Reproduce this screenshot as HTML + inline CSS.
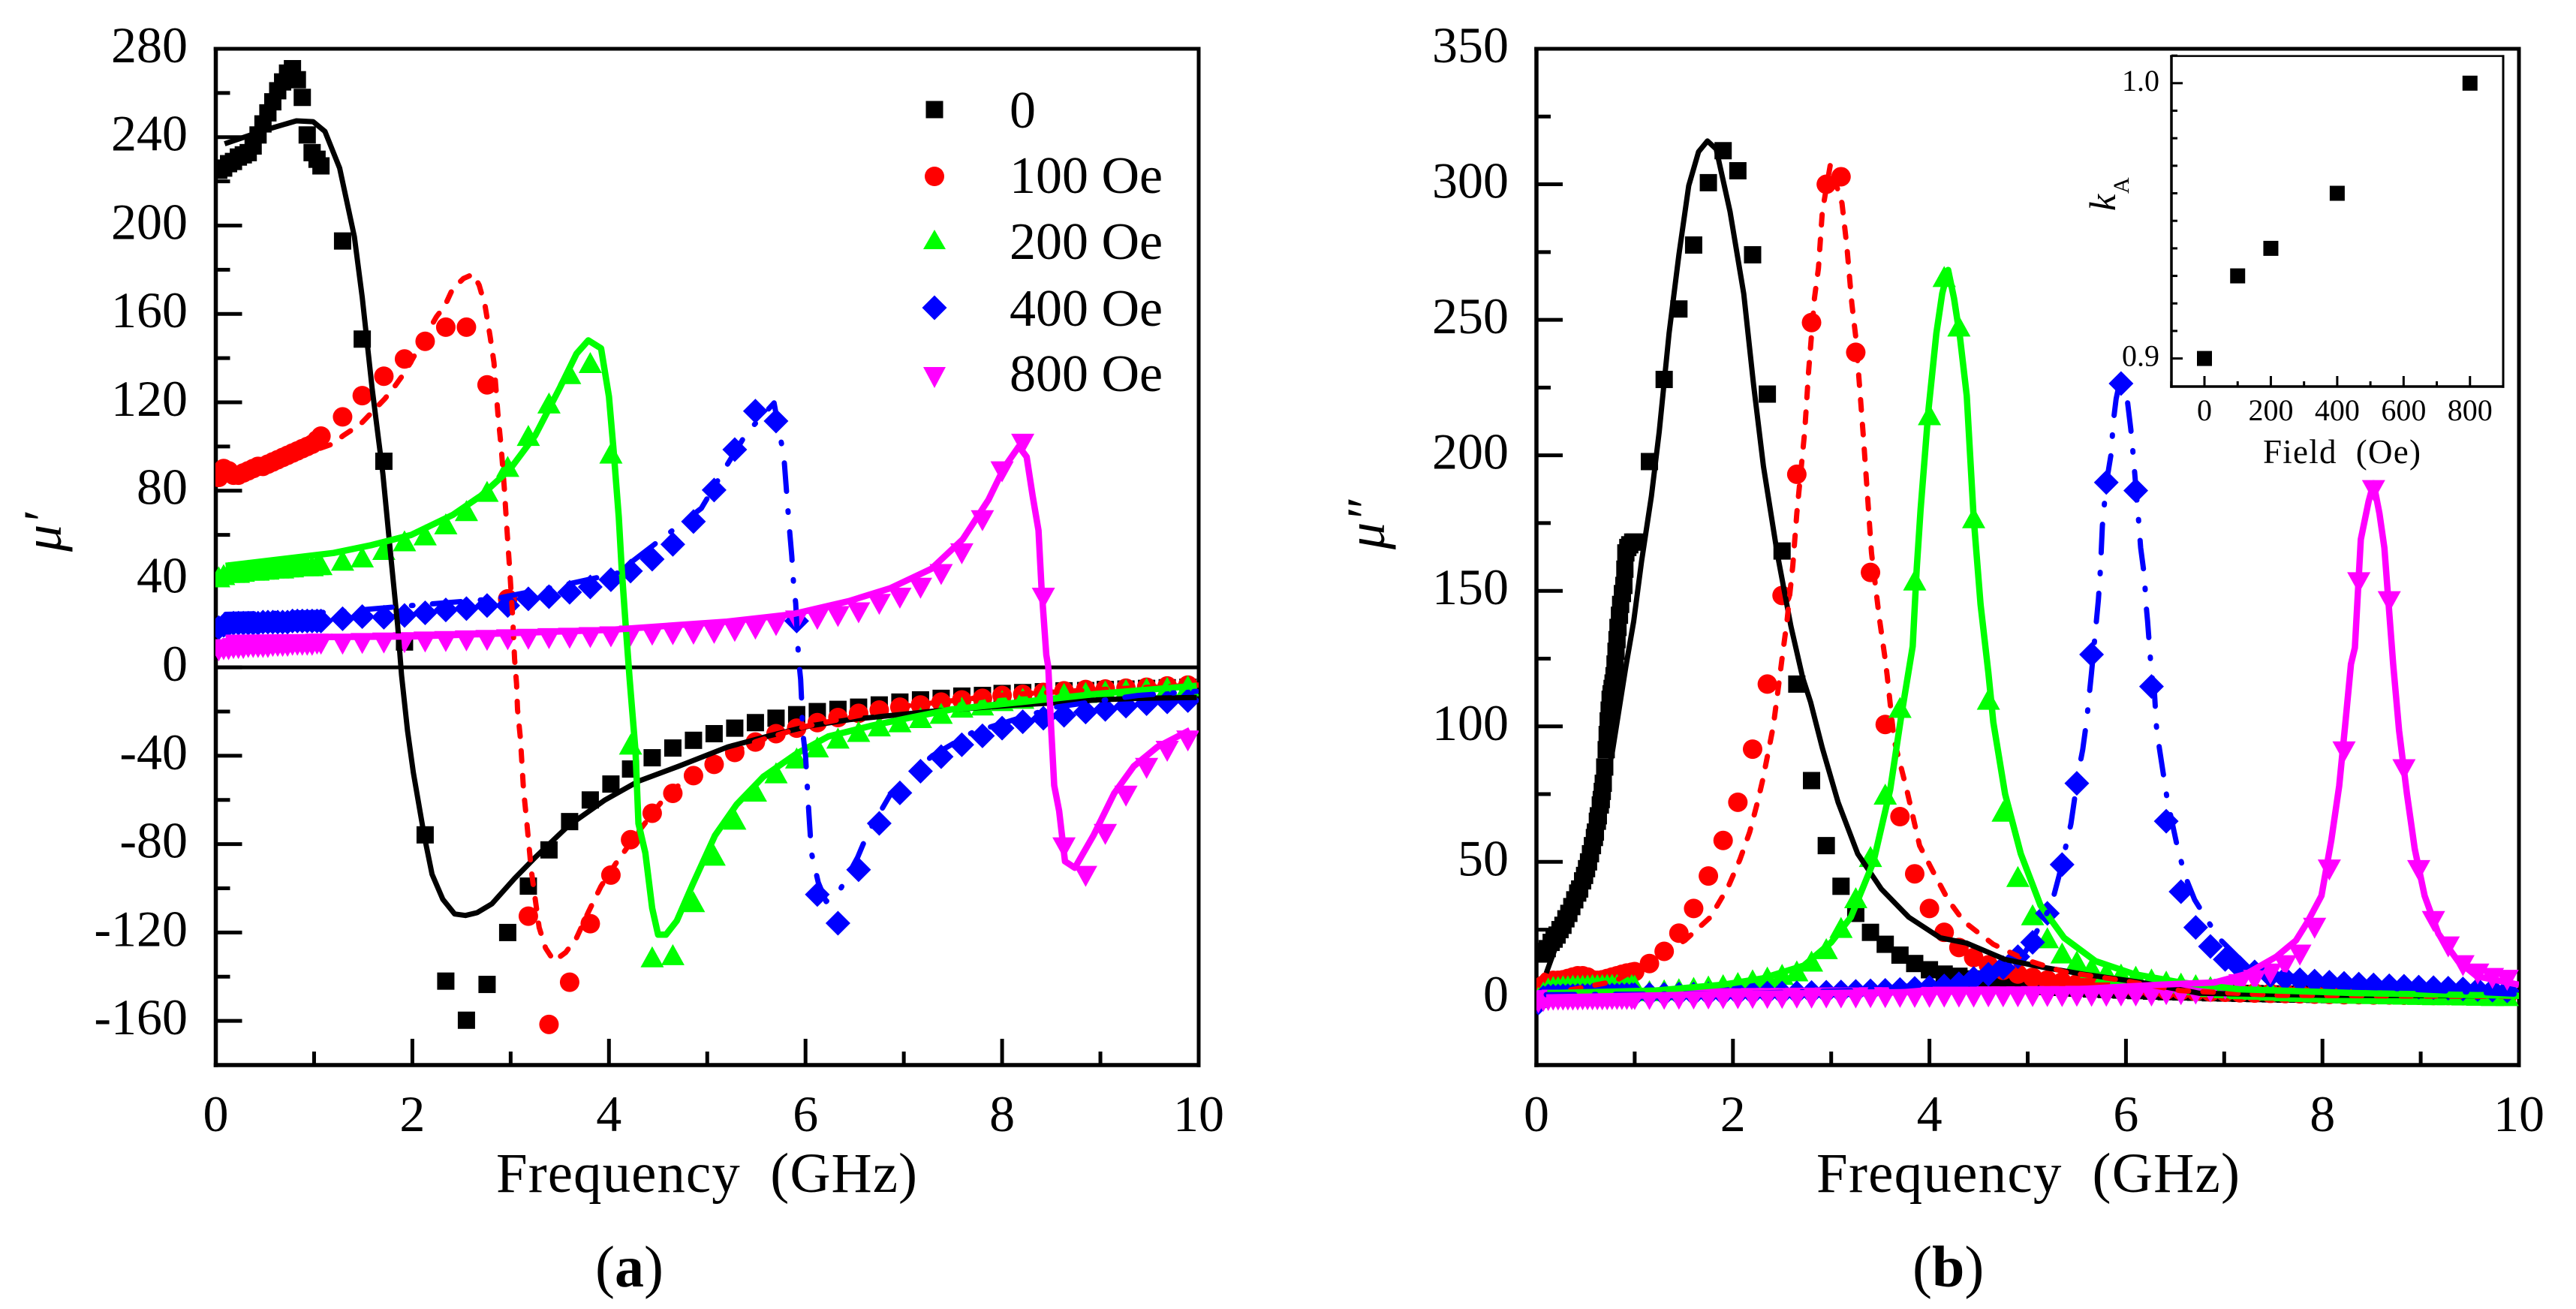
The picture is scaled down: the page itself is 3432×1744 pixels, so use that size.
<!DOCTYPE html>
<html lang="en">
<head>
<meta charset="utf-8">
<title>Complex permeability spectra</title>
<style>
html,body{margin:0;padding:0;background:#fff;}
svg{display:block;}
text{font-family:"Liberation Serif","DejaVu Serif",serif;fill:#000;}
</style>
</head>
<body>
<svg id="figure" xmlns="http://www.w3.org/2000/svg" width="3432" height="1744" viewBox="0 0 3432 1744">
<rect x="0" y="0" width="3432" height="1744" fill="#fff"/>
<defs>
<clipPath id="clipA"><rect x="287" y="65" width="1310" height="1354"/></clipPath>
<clipPath id="clipB"><rect x="2047" y="65" width="1309" height="1354"/></clipPath>
</defs>
<g id="layerA"></g>
<g id="layerB"></g>
<g id="layerInset"></g>

<text transform="translate(81,735) rotate(-90)" font-size="72" font-style="italic">μ′</text>
<text transform="translate(1844,732) rotate(-90)" font-size="72" font-style="italic">μ″</text>
<text x="661" y="1588" font-size="75" textLength="561" lengthAdjust="spacing">Frequency&#160;&#160;(GHz)</text>
<text x="2420" y="1588" font-size="75" textLength="564" lengthAdjust="spacing">Frequency&#160;&#160;(GHz)</text>
<text x="793" y="1714" font-size="78">(<tspan font-weight="bold">a</tspan>)</text>
<text x="2548" y="1714" font-size="78">(<tspan font-weight="bold">b</tspan>)</text>
<text x="3015" y="617" font-size="45" textLength="210" lengthAdjust="spacing">Field&#160;&#160;(Oe)</text>
<text transform="translate(2818,281) rotate(-90)" font-size="50" font-style="italic">k</text>
<text transform="translate(2836,258) rotate(-90)" font-size="30">A</text>

<g>
<rect x="1233.5" y="134.5" width="23" height="23" fill="#000"/>
<circle cx="1245" cy="235" r="13" fill="#f00"/>
<polygon points="1230,332 1260,332 1245,306" fill="#0f0"/>
<polygon points="1245,393.5 1261.5,410 1245,426.5 1228.5,410" fill="#00f"/>
<polygon points="1230,489 1260,489 1245,517" fill="#f0f"/>
<text x="1345" y="170" font-size="70">0</text>
<text x="1345" y="257" font-size="70">100 Oe</text>
<text x="1345" y="345" font-size="70">200 Oe</text>
<text x="1345" y="434" font-size="70">400 Oe</text>
<text x="1345" y="521" font-size="70">800 Oe</text>
</g>
</svg>
<script>
// ---------- Panel (a) data ----------
const aFreq=[.03,.08,.13,.18,.23,.28,.33,.38,.43,.48,.53,.58,.63,.68,.73,.78,.83,.88,.93,.98,1.03,1.07,
1.29,1.49,1.71,1.92,2.13,2.34,2.55,2.76,2.97,3.18,3.39,3.6,3.81,4.02,4.22,4.44,4.65,4.86,5.07,5.28,5.49,5.70,5.91,6.12,6.33,6.54,6.75,6.96,7.17,7.38,7.59,7.80,8.0,8.21,8.42,8.63,8.85,9.05,9.26,9.47,9.68,9.89];
const a0=[225,226,228,229,231,232,233,236,241,246,251,256,261,265,269,271,266,258,241,233,230,227,
193,148.6,93.3,11.5,-75.8,-142,-159.7,-143.5,-120,-99,-82.6,-69.8,-60,-52.8,-46,-40.9,-36.5,-33,-30,-27.5,-25,-23,-21.4,-20,-19,-18,-17,-15.7,-14.7,-14,-13,-12.7,-11.8,-11.4,-11,-10.6,-10.5,-10,-9.8,-9.5,-9.2,-9];
const a100=[86,90,89,87,87,88,89,90,91,91,92,93,94,95,96,97,98,99,100,101,103,104.7,
113.4,123,131.8,139.6,147.6,154,154,127.9,31,-112.6,-161.6,-142.5,-116,-94,-78,-66,-57,-49,-43.9,-38.5,-33.8,-30,-27.5,-25,-22.7,-20.8,-19.3,-18,-17,-15.7,-14.7,-14,-12.7,-12.2,-11.3,-10.6,-10,-9.8,-9.4,-9,-8.4,-8];
const a200=[41,42,43,43,43,43.5,44,44,44,44.5,44.5,45,45,45,45.5,45.5,46,46,46,46,46.5,46.5,
48.5,50,53.4,57.3,60,65,71,79.7,91,105,119.7,133,138,97,-34.7,-131,-130,-106,-85,-68.7,-56,-47.7,-41,-36,-32,-29,-26.5,-24.6,-22.7,-20.8,-18,-17,-15,-14,-12.6,-11.8,-11.3,-10.6,-10,-9.4,-9,-8.3];
const a400=[18,19,19.5,20,20,20,20,20,20,20.5,20.5,20.5,20.5,20.5,20.5,21,21,21,21,21,21,21,
22,23,22.7,23.5,24.7,26,26.6,28,28,31,32,34,36.4,39.7,43.6,49,55.7,66,80.3,98.6,116,111.5,21,-102.8,-115.8,-91.6,-70.6,-56.8,-47,-40.4,-35,-31,-27.5,-24.6,-23,-21.7,-20.2,-19,-17.5,-16.4,-15.6,-15];
const a800=[7.5,8,8,8.5,8.5,8.5,9,9,9,9,9,9.5,9.5,9.5,9.5,10,10,10,10,10,10.5,10.5,
10.5,10.8,11,11.2,11.5,11.7,12,12.2,12.5,12.7,13,13.2,13.5,13.8,14.2,14.6,14.8,15,15.4,16.3,17.3,18.9,21,21.7,23,24.7,28.5,31.3,35.8,42,51.4,66.4,88.5,101,31.3,-81.7,-94.6,-75.6,-58.3,-45.7,-38,-33.3];

const aFit0F=[.09,.53,.82,.99,1.11,1.26,1.41,1.49,1.59,1.70,1.785,1.85,1.89,1.95,2.01,2.12,2.2,2.31,2.43,2.54,2.66,2.81,3.04,3.25,3.59,3.96,4.3,4.71,5.21,5.63,6.04,6.46,6.88,7.3,7.72,8.14,8.56,8.98,9.39,9.98];
const aFit0V=[237,243.6,247.4,247,242.6,226,195,167.5,126.5,87.6,48.5,19,-3.6,-28.5,-47.6,-76,-93.6,-105,-111.6,-112.3,-111,-107,-95.5,-86,-71.6,-60,-51.5,-44.7,-36,-31,-26.5,-23.6,-21.7,-19.8,-18.4,-17,-16,-14.7,-14,-13.6];
const aFit100F=[.1,.6,1.18,1.30,1.47,1.595,1.72,1.825,1.93,2.245,2.33,2.41,2.52,2.62,2.68,2.74,2.79,2.83,2.87,2.905,2.935,2.96,2.99,3.02,3.04,3.06,3.07,3.1,3.13,3.165,3.21,3.25,3.29,3.355,3.44,3.56,3.67,3.79,3.92,4.07,4.3,4.6,5.0,5.5,6,7,8,9,10];
const aFit100V=[86,92,101,105,110,115.8,121.6,127.5,134,158.7,163.6,171.4,176,178,173,163.6,150,138,115,99,81.6,64,44.6,23,3.7,-7.4,-19,-32.4,-55,-70.6,-91.7,-105,-117.7,-127,-132.9,-129,-122.4,-110.8,-99,-88.7,-74.4,-57,-44,-33.5,-26.7,-17.6,-12.5,-10,-8];
const aFit200F=[.1,1.2,1.58,1.99,2.41,2.70,2.99,3.25,3.5,3.67,3.79,3.92,4.0,4.05,4.1,4.13,4.17,4.21,4.27,4.3,4.37,4.44,4.5,4.58,4.69,4.85,5.08,5.3,5.57,5.91,6.23,6.66,7.07,7.49,8.13,8.96,9.98];
const aFit200V=[46,51.8,55.3,60,69,77.8,89.5,105,126.5,142,148,144.4,122.6,97,68,44.6,19,-5,-38,-70.6,-84,-109,-121,-121,-114.7,-98.4,-76,-62,-49.5,-39,-31.3,-26.5,-22.7,-19,-16,-12,-8.3];
const aFit400F=[.1,1.2,1.99,2.83,3.45,4.08,4.94,5.2,5.4,5.68,5.74,5.78,5.82,5.84,5.86,5.88,5.9,5.93,5.95,5.96,5.97,6.0,6.03,6.06,6.13,6.21,6.36,6.53,6.63,6.87,7.29,7.7,8.54,9.38,9.98];
const aFit400V=[24,25,28,31,36.4,42.6,72,91.5,106,119.7,105,95.3,72,61,50.4,36.8,29,3.6,-5.4,-15,-28.6,-40,-63,-84,-97.4,-106,-100,-86,-75.4,-57,-40,-29.4,-18,-12.7,-10.8];
const aFit800F=[.1,1.99,4.02,5.2,5.86,6.44,6.86,7.28,7.6,7.86,8.02,8.17,8.25,8.31,8.37,8.4,8.45,8.47,8.5,8.53,8.58,8.64,8.74,8.93,9.14,9.34,9.58,9.91];
const aFit800V=[13.4,14,17,20.7,24,30,35.8,44.6,58,75.8,90.4,100,95.3,77.8,62,36.8,5.6,.3,-28.4,-53.4,-65,-87.8,-90.7,-76,-57,-44.7,-36,-28.4];

const aXMajor=[0,2,4,6,8,10];
const aXMinor=[1,3,5,7,9];
const aYMajor=[280,240,200,160,120,80,40,0,-40,-80,-120,-160];
const aYMinor=[260,220,180,140,100,60,20,-20,-60,-100,-140];
const aXLabels=['0','2','4','6','8','10'];
const aYLabels=['280','240','200','160','120','80','40','0','-40','-80','-120','-160'];

// ---------- Panel (b) data ----------
const bFreq0Dense=[.02,.05,.07,.11,.15,.18,.21,.24,.27,.30,.33,.36,.39,.42,.44,.47,.49,.51,.53,.55,.57,.59,.60,.62,.63,.65,.66,.67,.68,.695,.71,.72,.73,.74,.75,.76,.77,.78,.79,.80,.81,.82,.83,.845,.857,.875,.89,.90,.91,.93,.95,.98];
const b0Dense=[17,16,16.4,18,20.3,21.5,23,25,26.6,29,31,33.5,36,38.5,40,43,45,47.5,50,53,56,59,61,65,67,71,73,76,79,85,91.4,97,102,106,110,112,114,116,118.7,123,127.7,132,136.5,141,145,149,152,158,164,166,167,168];
const bFreqDense=[.02,.07,.12,.17,.22,.27,.32,.37,.42,.47,.52,.57,.62,.67,.72,.77,.82,.87,.92,.97];
const bFreq=[1.00,1.15,1.30,1.45,1.60,1.75,1.90,2.05,2.20,2.35,2.50,2.65,2.80,2.95,3.10,3.25,3.40,3.55,3.70,3.85,4.00,4.15,4.30,4.45,4.60,4.75,4.90,5.05,5.20,5.35,5.50,5.65,5.80,5.95,6.10,6.26,6.41,6.56,6.71,6.86,7.01,7.16,7.31,7.47,7.62,7.77,7.92,8.07,8.22,8.37,8.52,8.68,8.83,8.98,9.13,9.28,9.43,9.58,9.73,9.88];
const b0=[168,197.7,228,254,277.6,300.6,312.4,305,274,222.6,164.7,115.6,80,56,41,31,24,19.6,15.6,12.5,10.2,8.6,7.8,6.8,6,5.4,5,4.4,4,3.7,3.4,3.1,2.9,2.7,2.5,2.3,2.1,2,1.9,1.7,1.6,1.5,1.4,1.3,1.2,1.2,1.1,1,1,.9,.9,.8,.8,.7,.7,.6,.6,.5,.5,.5];
const b100Dense=[2,4.5,6,6.3,6.3,6.5,7,7.5,8,8,7.5,6.5,6.3,6.5,7,7.5,8,8.5,9,9.3];
const b100=[9.5,12.5,17,23.7,32.8,44.8,57.9,72,91.6,115.6,148.3,193,249,300,302.8,238,156.8,100.7,66.7,45.6,32.8,24,18.4,14.7,12,10,8.6,7.4,6.4,5.7,5,4.5,4,3.6,3.3,3,2.7,2.5,2.2,2,1.9,1.7,1.6,1.5,1.4,1.3,1.2,1.1,1,1,.9,.9,.8,.8,.7,.7,.6,.6,.6,.5];
const b200Dense=[0,2,3.5,4,4,4.3,4.3,4.5,4.5,4.5,4.6,4.7,4.7,4.7,4.8,4.8,4.8,4.8,4.8,4.7];
const b200=[4.5,2.5,2.8,3.2,3.7,4.2,4.7,5.5,6.5,7.5,8.5,9.8,13.4,18,25.8,36.8,52,75,107,154,215,266,247.7,177,110,68.7,44.6,30.5,22,16.4,13.4,11,9.4,8.6,7.8,6.8,6,5.3,4.7,4,3.6,3.2,3,2.7,2.4,2.2,2,1.8,1.7,1.5,1.4,1.3,1.2,1.1,1,1,.9,.8,.7,.7];
const b400Dense=[-2,0,.5,.5,.5,.6,.6,.6,.7,.7,.7,.8,.8,.8,.9,.9,.9,1,1,1];
const b400=[1,1.1,1.1,1.2,1.2,1.3,1.3,1.4,1.5,1.6,1.6,1.7,1.8,1.9,2,2.2,2.4,2.6,2.9,3.3,3.7,4.2,5,7,8.5,11,15,20.3,31,49,79,126.5,190,226.5,187,114.7,65,39,25.8,18.8,14,11,9.4,8,7,6.5,6,5.6,5.2,4.9,4.6,4.3,4.1,3.8,3.6,3.4,3.1,2.9,2.7,2.4];
const b800Dense=[-2,-1.5,-1.2,-1,-1,-1,-1,-1,-1,-.9,-.9,-.9,-.9,-.9,-.9,-.8,-.8,-.8,-.8,-.8];
const b800=[-.8,-.8,-.7,-.7,-.6,-.6,-.5,-.5,-.4,-.4,-.4,-.3,-.3,-.2,-.2,-.2,-.1,-.1,0,0,0,.1,.1,.1,.2,.2,.2,.3,.3,.3,.4,.4,.4,.5,.5,.5,1,1,1.2,2,3,4.7,6.3,8.6,11.7,15.6,25.5,47,90.6,153,187,146,84,46.8,28,18.6,11.7,8.6,7,6.3];

const bFit0F=[.1,.43,.59,.77,.91,.99,1.07,1.17,1.25,1.35,1.45,1.55,1.65,1.74,1.83,1.97,2.11,2.21,2.31,2.45,2.59,2.71,2.79,2.91,3.07,3.27,3.51,3.79,4.11,4.38,4.77,5.17,5.56,6.16,6.75,8,10];
const bFit0V=[9,42,61,90,122,138.8,161,185,208.8,245,274,299.5,312,316,313,290,259.6,226,196,164,137,118,109,92,72,53,40,29.6,22,20,14,11,8.6,5.5,1.5,.8,.5];
const bFit100F=[.1,.8,1.51,1.77,1.95,2.07,2.17,2.25,2.3,2.36,2.41,2.45,2.51,2.55,2.61,2.65,2.73,2.77,2.83,2.87,2.91,2.99,3.11,3.16,3.21,3.25,3.29,3.33,3.37,3.41,3.49,3.55,3.57,3.64,3.77,3.9,4.03,4.19,4.35,4.65,4.97,5.37,5.96,6.55,7.54,10];
const bFit100V=[1,6,21,29.6,40.7,50.8,61,72,79.8,90.6,100,110.9,128,138.8,159.5,178.6,208.8,231,258,269,290,307,293,277,256,243.7,224.7,205.6,185,164,140,124.6,118.7,95,76.5,56,46.9,36,28,19.6,14,9.4,6.3,2.5,.8,.3];
const bFit200F=[.11,1.2,1.9,2.3,2.72,3.0,3.2,3.43,3.6,3.71,3.83,3.87,3.91,3.99,4.07,4.13,4.19,4.25,4.31,4.38,4.45,4.52,4.6,4.65,4.77,4.93,5.13,5.37,5.69,6.08,6.56,7.15,8.34,10];
const bFit200V=[1.6,2.5,4.7,7,11.7,20.3,29.6,50,76.5,103,129.6,158,180,216.8,245,259.7,268.4,258,243.7,222,177,145,119.8,101.5,75,53,34,22,13.4,8.6,5.5,3,1.6,.6];
const bFit400F=[.1,2,3.2,4.5,4.97,5.24,5.32,5.44,5.52,5.56,5.6,5.65,5.72,5.74,5.76,5.8,5.85,5.87,5.9,5.95,6.01,6.05,6.07,6.09,6.13,6.15,6.19,6.2,6.22,6.26,6.29,6.31,6.34,6.42,6.52,6.6,6.7,6.94,7.18,7.57,8.36,9.95];
const bFit400V=[1,1.4,2.5,6.3,16.4,34,45,64,84,91.4,102,120,146.8,158,174,189.7,200.8,212,220.8,229.5,221.6,209.6,201.6,193,175.4,165.9,154.8,146.8,138.9,119.8,112.4,100,92,73,56,45,36,22,13.4,8.6,3.9,1.2];
const bFit800F=[.1,2,4,5.5,6.35,6.9,7.22,7.53,7.73,7.85,7.99,8.09,8.17,8.23,8.29,8.33,8.39,8.47,8.52,8.58,8.63,8.68,8.72,8.78,8.86,8.94,9.04,9.18,9.38,9.57,10];
const bFit800V=[0,1.3,2,3,4.7,5.5,8.6,15,21,28,37.5,58,78,100,123,129,169,183,189.7,178.6,165.9,142,123,98.4,75,54.7,37.5,23.5,13.4,7.8,4.7];

const bXMajor=[0,2,4,6,8,10];
const bXMinor=[1,3,5,7,9];
const bYMajor=[350,300,250,200,150,100,50,0];
const bYMinor=[325,275,225,175,125,75,25];
const bXLabels=['0','2','4','6','8','10'];
const bYLabels=['350','300','250','200','150','100','50','0'];

// ---------- Inset data ----------
const insetField=[0,100,200,400,800];
const insetK=[.9,.93,.94,.96,1];
const insetXMajor=[0,200,400,600,800];
const insetXMinor=[-100,100,300,500,700,900];
const insetYMajor=[1,.9];
const insetYMinor=[1.01,.99,.98,.97,.96,.95,.94,.93,.92,.91];
const insetXLabels=['0','200','400','600','800'];
const insetYLabels=['1.0','0.9'];

// ---------- Drawing helpers ----------
const NS='http://www.w3.org/2000/svg';
function mk(tag,parent,attrs){
  const el=document.createElementNS(NS,tag);
  for(const k in attrs){el.setAttribute(k,attrs[k]);}
  parent.appendChild(el);
  return el;
}
function marker(parent,shape,cx,cy,s,color,name){
  let el;
  if(shape==='square'){
    el=mk('rect',parent,{x:cx-s/2,y:cy-s/2,width:s,height:s,fill:color});
  }else if(shape==='circle'){
    el=mk('circle',parent,{cx:cx,cy:cy,r:s/2,fill:color});
  }else if(shape==='up'){
    el=mk('polygon',parent,{points:(cx-15.5)+','+(cy+14)+' '+(cx+15.5)+','+(cy+14)+' '+cx+','+(cy-14),fill:color});
  }else if(shape==='down'){
    el=mk('polygon',parent,{points:(cx-15.5)+','+(cy-14)+' '+(cx+15.5)+','+(cy-14)+' '+cx+','+(cy+14),fill:color});
  }else{
    el=mk('polygon',parent,{points:cx+','+(cy-16.5)+' '+(cx+16.5)+','+cy+' '+cx+','+(cy+16.5)+' '+(cx-16.5)+','+cy,fill:color});
  }
  
  
}
function fitLine(parent,xs,ys,X,Y,color,width,dash,name){
  const d=xs.map((f,i)=>(i?'L':'M')+X(f).toFixed(1)+' '+Y(ys[i]).toFixed(1)).join(' ');
  const attrs={d:d,fill:'none',stroke:color,'stroke-width':width,'stroke-linejoin':'round'};
  if(dash){attrs['stroke-dasharray']=dash;attrs['stroke-linecap']='round';}
  const el=mk('path',parent,attrs);
  
  
}
function tick(parent,x1,y1,x2,y2,w,name){
  const el=mk('line',parent,{x1:x1,y1:y1,x2:x2,y2:y2,stroke:'#000','stroke-width':w});
  
  
}
function label(parent,x,y,txt,size,anchor,name){
  const el=mk('text',parent,{x:x,y:y,'font-size':size,'text-anchor':anchor});
  el.textContent=txt;
  
  
}
function frame(parent,L,T,R,B,wL,wT,wR,wB,name){
  tick(parent,L,T-wT/2,L,B+wB/2,wL,name+'-left-axis');
  tick(parent,L-wL/2,T,R+wR/2,T,wT,name+'-top-axis');
  tick(parent,R,T-wT/2,R,B+wB/2,wR,name+'-right-axis');
  tick(parent,L-wL/2,B,R+wR/2,B,wB,name+'-bottom-axis');
}

// ---------- Panel (a) ----------
const layerA=document.getElementById('layerA');
const xA=f=>287.5+130.95*f;
const yA=v=>65+(280-v)*2.9435;
frame(layerA,xA(0),65,xA(10),1419,5.5,5,5,5.5,'panel-a');
tick(layerA,xA(0),yA(0),xA(10),yA(0),5,'zero-line');
aYMajor.forEach(v=>tick(layerA,xA(0),yA(v),xA(0)+35,yA(v),5,'y-major-tick'));
aYMinor.forEach(v=>tick(layerA,xA(0),yA(v),xA(0)+19,yA(v),5,'y-minor-tick'));
aXMajor.forEach(f=>tick(layerA,xA(f),1419,xA(f),1384,5,'x-major-tick'));
aXMinor.forEach(f=>tick(layerA,xA(f),1419,xA(f),1401,5,'x-minor-tick'));
aYMajor.forEach((v,i)=>label(layerA,250,yA(v)+18,aYLabels[i],68,'end','y-tick-label'));
aXMajor.forEach((f,i)=>label(layerA,xA(f),1507,aXLabels[i],68,'middle','x-tick-label'));
const plotA=mk('g',layerA,{'clip-path':'url(#clipA)'});


const seriesA=[[a0,'square',23,'#000','a-0'],[a100,'circle',26,'#f00','a-100-oe'],[a200,'up',30,'#0f0','a-200-oe'],[a400,'diamond',33,'#00f','a-400-oe'],[a800,'down',30,'#f0f','a-800-oe']];
seriesA.forEach(s=>{
  s[0].forEach((v,i)=>marker(plotA,s[1],xA(aFreq[i]),yA(v),s[2],s[3],s[4]));
});
fitLine(plotA,aFit0F,aFit0V,xA,yA,'#000',7,null,'a-0');
fitLine(plotA,aFit100F,aFit100V,xA,yA,'#f00',7,'14 19','a-100-oe');
fitLine(plotA,aFit200F,aFit200V,xA,yA,'#0f0',8.5,null,'a-200-oe');
fitLine(plotA,aFit400F,aFit400V,xA,yA,'#00f',7,'38 26 2 26','a-400-oe');
fitLine(plotA,aFit800F,aFit800V,xA,yA,'#f0f',8.5,null,'a-800-oe');

// ---------- Panel (b) ----------
const layerB=document.getElementById('layerB');
const xB=f=>2047+130.9*f;
const yB=v=>65+(350-v)*3.611;
frame(layerB,xB(0),65,xB(10),1419,5.5,5,5,5.5,'panel-b');
bYMajor.forEach(v=>tick(layerB,xB(0),yB(v),xB(0)+35,yB(v),5,'y-major-tick'));
bYMinor.forEach(v=>tick(layerB,xB(0),yB(v),xB(0)+19,yB(v),5,'y-minor-tick'));
bXMajor.forEach(f=>tick(layerB,xB(f),1419,xB(f),1384,5,'x-major-tick'));
bXMinor.forEach(f=>tick(layerB,xB(f),1419,xB(f),1401,5,'x-minor-tick'));
bYMajor.forEach((v,i)=>label(layerB,2010,yB(v)+18,bYLabels[i],68,'end','y-tick-label'));
bXMajor.forEach((f,i)=>label(layerB,xB(f),1507,bXLabels[i],68,'middle','x-tick-label'));
const plotB=mk('g',layerB,{'clip-path':'url(#clipB)'});


const seriesB=[[b0Dense,bFreq0Dense,b0,'square',23,'#000','b-0'],[b100Dense,bFreqDense,b100,'circle',26,'#f00','b-100-oe'],[b200Dense,bFreqDense,b200,'up',30,'#0f0','b-200-oe'],[b400Dense,bFreqDense,b400,'diamond',33,'#00f','b-400-oe'],[b800Dense,bFreqDense,b800,'down',30,'#f0f','b-800-oe']];
seriesB.forEach(s=>{
  s[0].forEach((v,i)=>marker(plotB,s[3],xB(s[1][i]),yB(v),s[4],s[5],s[6]));
  s[2].forEach((v,i)=>marker(plotB,s[3],xB(bFreq[i]),yB(v),s[4],s[5],s[6]));
});
fitLine(plotB,bFit0F,bFit0V,xB,yB,'#000',7,null,'b-0');
fitLine(plotB,bFit100F,bFit100V,xB,yB,'#f00',7,'14 19','b-100-oe');
fitLine(plotB,bFit200F,bFit200V,xB,yB,'#0f0',8.5,null,'b-200-oe');
fitLine(plotB,bFit400F,bFit400V,xB,yB,'#00f',7,'38 26 2 26','b-400-oe');
fitLine(plotB,bFit800F,bFit800V,xB,yB,'#f0f',8.5,null,'b-800-oe');

// ---------- Inset ----------
const layerI=document.getElementById('layerInset');
const xI=f=>2937+.4422*f;
const yI=v=>110.8+(1-v)*3668;
frame(layerI,2893,74.6,3335,515,3.5,2.5,3,3.5,'inset');
insetYMajor.forEach(v=>tick(layerI,2893,yI(v),2908,yI(v),3,'inset-y-major-tick'));
insetYMinor.forEach(v=>tick(layerI,2893,yI(v),2901,yI(v),3,'inset-y-minor-tick'));
insetXMajor.forEach(f=>tick(layerI,xI(f),515,xI(f),501,3,'inset-x-major-tick'));
insetXMinor.forEach(f=>tick(layerI,xI(f),515,xI(f),508,3,'inset-x-minor-tick'));
insetYMajor.forEach((v,i)=>label(layerI,2877,yI(v)+10,insetYLabels[i],40,'end','inset-y-tick-label'));
insetXMajor.forEach((f,i)=>label(layerI,xI(f),560,insetXLabels[i],40,'middle','inset-x-tick-label'));
insetK.forEach((v,i)=>marker(layerI,'square',xI(insetField[i]),yI(v),20,'#000','inset'));
</script>
</body>
</html>
